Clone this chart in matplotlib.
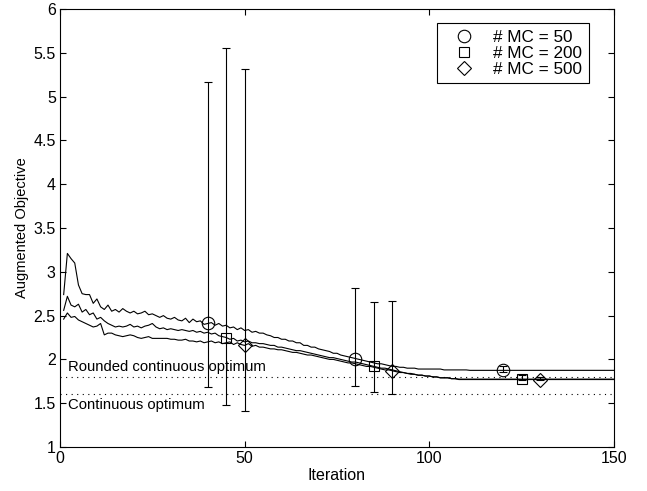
import numpy as np
import matplotlib
matplotlib.use('Agg')
import matplotlib.pyplot as plt
from matplotlib.lines import Line2D

plt.rcParams['font.family'] = ['Liberation Sans', 'DejaVu Sans']

# objective trace per iteration (1..150) for each number of MC samples
mc50 = [2.74, 3.21, 3.15, 3.10, 2.85, 2.75, 2.74, 2.74, 2.64, 2.69,
        2.60, 2.57, 2.62, 2.55, 2.57, 2.54, 2.58, 2.55, 2.53, 2.55,
        2.52, 2.53, 2.55, 2.51, 2.52, 2.50, 2.48, 2.50, 2.47, 2.46,
        2.48, 2.45, 2.44, 2.47, 2.42, 2.46, 2.43, 2.44, 2.40, 2.41,
        2.42, 2.39, 2.41, 2.38, 2.39, 2.36, 2.37, 2.34, 2.36, 2.33,
        2.34, 2.31, 2.32, 2.30, 2.30, 2.28, 2.27, 2.25, 2.25, 2.23,
        2.23, 2.21, 2.21, 2.19, 2.19, 2.16, 2.16, 2.14, 2.14, 2.12,
        2.11, 2.10, 2.09, 2.07, 2.07, 2.05, 2.04, 2.03, 2.02, 2.01,
        2.00, 1.99, 1.98, 1.97, 1.96, 1.95, 1.95, 1.94, 1.93, 1.92,
        1.92, 1.91, 1.91, 1.90, 1.90, 1.90, 1.89, 1.89, 1.89, 1.89,
        1.89, 1.89, 1.89, 1.88, 1.88, 1.88, 1.88, 1.88, 1.88, 1.88] + [1.875] * 40

mc200 = [2.56, 2.72, 2.62, 2.60, 2.63, 2.54, 2.57, 2.51, 2.53, 2.46,
         2.48, 2.44, 2.41, 2.39, 2.37, 2.38, 2.37, 2.38, 2.40, 2.37,
         2.38, 2.36, 2.38, 2.39, 2.41, 2.37, 2.35, 2.36, 2.34, 2.35,
         2.34, 2.33, 2.34, 2.33, 2.32, 2.33, 2.31, 2.32, 2.30, 2.31,
         2.29, 2.30, 2.27, 2.26, 2.25, 2.23, 2.24, 2.21, 2.22, 2.20,
         2.21, 2.19, 2.19, 2.18, 2.18, 2.17, 2.16, 2.16, 2.14, 2.14,
         2.13, 2.12, 2.11, 2.10, 2.10, 2.09, 2.08, 2.07, 2.06, 2.05,
         2.04, 2.03, 2.02, 2.02, 2.01, 2.00, 1.99, 1.98, 1.97, 1.97,
         1.96, 1.95, 1.94, 1.93, 1.92, 1.91, 1.90, 1.90, 1.89, 1.88,
         1.87, 1.86, 1.85, 1.84, 1.84, 1.83, 1.82, 1.82, 1.81, 1.81,
         1.80, 1.80, 1.79, 1.79, 1.79, 1.78, 1.78] + [1.775] * 43

mc500 = [2.46, 2.53, 2.48, 2.49, 2.45, 2.43, 2.41, 2.39, 2.37, 2.38,
         2.41, 2.28, 2.30, 2.30, 2.28, 2.27, 2.26, 2.27, 2.28, 2.27,
         2.25, 2.24, 2.25, 2.26, 2.24, 2.24, 2.24, 2.24, 2.24, 2.23,
         2.23, 2.22, 2.22, 2.23, 2.21, 2.21, 2.20, 2.21, 2.19, 2.20,
         2.21, 2.19, 2.20, 2.18, 2.19, 2.20, 2.17, 2.19, 2.17, 2.16,
         2.18, 2.15, 2.16, 2.14, 2.14, 2.13, 2.12, 2.12, 2.11, 2.11,
         2.10, 2.09, 2.08, 2.08, 2.07, 2.06, 2.05, 2.05, 2.04, 2.03,
         2.02, 2.01, 2.00, 2.00, 1.99, 1.98, 1.97, 1.96, 1.96, 1.95,
         1.94, 1.93, 1.92, 1.92, 1.91, 1.90, 1.89, 1.88, 1.88, 1.87,
         1.86, 1.85, 1.85, 1.84, 1.83, 1.83, 1.82, 1.82, 1.81, 1.81,
         1.80, 1.80, 1.79, 1.79, 1.79, 1.78, 1.78] + [1.77] * 43

iters = np.arange(1, 151)

# error bar summaries
bar_x = {'50': [40, 80, 120], '200': [45, 85, 125], '500': [50, 90, 130]}
bar_mid = {'50': [2.41, 2.00, 1.88], '200': [2.24, 1.92, 1.78], '500': [2.16, 1.87, 1.765]}
bar_lo = {'50': [1.68, 1.70, 1.86], '200': [1.48, 1.63, 1.77], '500': [1.41, 1.61, 1.76]}
bar_hi = {'50': [5.17, 2.82, 1.93], '200': [5.56, 2.66, 1.82], '500': [5.31, 2.67, 1.80]}
markers = {'50': 'o', '200': 's', '500': 'D'}
msizes = {'50': 9, '200': 7, '500': 7}

rounded_opt = 1.8
cont_opt = 1.6

fig = plt.figure(figsize=(6.47, 4.91), dpi=100)
ax = fig.add_axes([0.0927, 0.0896, 0.8563, 0.8921])

ax.plot(iters, mc50, 'k-', lw=0.8)
ax.plot(iters, mc200, 'k-', lw=0.8)
ax.plot(iters, mc500, 'k-', lw=0.8)

ax.axhline(rounded_opt, color='k', ls=(0, (1, 4)), lw=0.8)
ax.axhline(cont_opt, color='k', ls=(0, (1, 4)), lw=0.8)
ax.text(2.2, rounded_opt + 0.035, 'Rounded continuous optimum', fontsize=10.7, va='bottom')
ax.text(2.2, cont_opt - 0.04, 'Continuous optimum', fontsize=10.7, va='top')

handles = []
for k in ['50', '200', '500']:
    x = np.array(bar_x[k])
    y = np.array(bar_mid[k])
    lo = y - np.array(bar_lo[k])
    hi = np.array(bar_hi[k]) - y
    ax.errorbar(x, y, yerr=[lo, hi], fmt='none', ecolor='k', elinewidth=0.8, capsize=3, capthick=0.8)
    ax.plot(x, y, ls='none', marker=markers[k], ms=msizes[k], mfc='none', mec='k', mew=0.8)
    handles.append(Line2D([], [], ls='none', marker=markers[k], ms=msizes[k], mfc='none',
                          mec='k', mew=0.8, label='# MC = ' + k))

leg = ax.legend(handles=handles, loc='upper right', bbox_to_anchor=(0.955, 0.968),
                borderaxespad=0, fancybox=False, framealpha=1, edgecolor='k',
                fontsize=12.3, handlelength=2.4, handletextpad=0.5, borderpad=0.4,
                labelspacing=0.05)
leg.get_frame().set_linewidth(0.8)

ax.set_xlim(0, 150)
ax.set_ylim(1, 6)
ax.set_xticks([0, 50, 100, 150])
ax.set_yticks(np.arange(1, 6.01, 0.5))
ax.set_yticklabels(['1', '1.5', '2', '2.5', '3', '3.5', '4', '4.5', '5', '5.5', '6'])
ax.tick_params(direction='in', top=True, right=True, length=4, width=0.8, labelsize=11.5, pad=3)
for s in ax.spines.values():
    s.set_linewidth(0.8)
ax.set_xlabel('Iteration', fontsize=11.5, labelpad=1)
ax.set_ylabel('Augmented Objective', fontsize=10.5, labelpad=3)

fig.savefig('out.png', dpi=100)
